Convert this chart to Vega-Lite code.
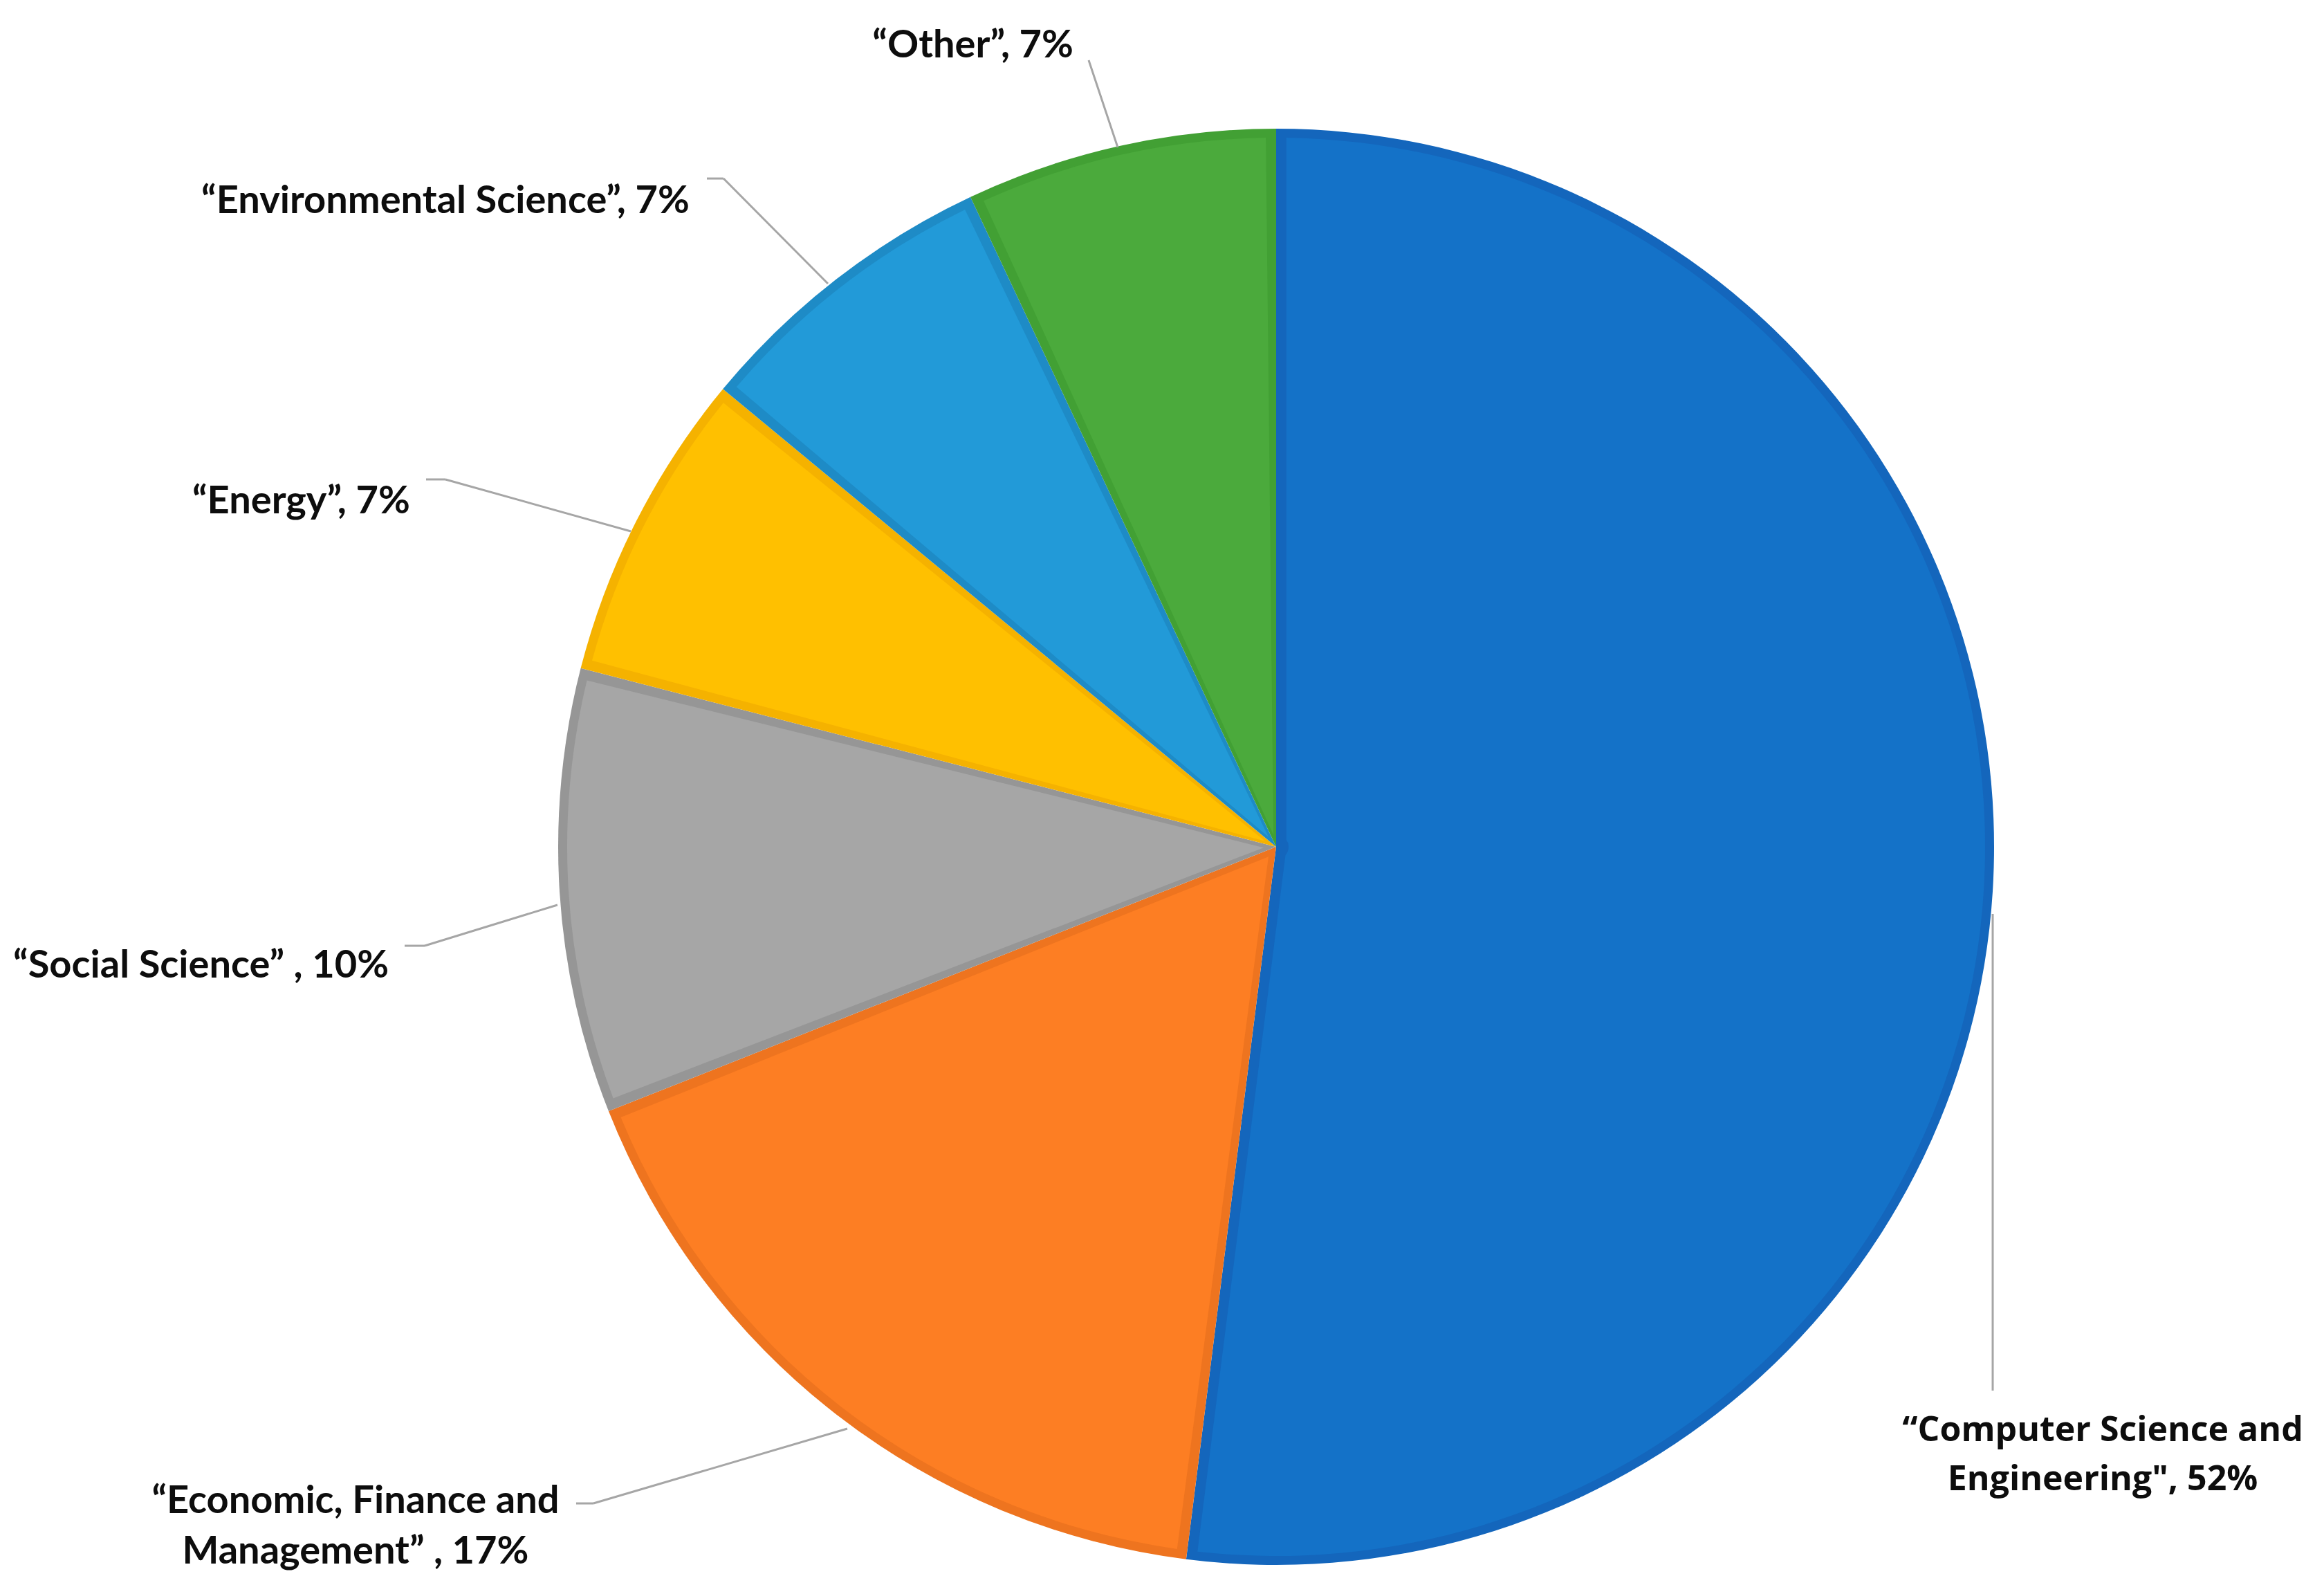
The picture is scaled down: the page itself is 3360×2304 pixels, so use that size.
{
  "$schema": "https://vega.github.io/schema/vega-lite/v6.json",
  "width": 2076,
  "height": 2076,
  "autosize": {"type": "none"},
  "padding": {"left": 807, "top": 186, "right": 477, "bottom": 42},
  "background": "white",
  "view": {"stroke": null},
  "data": {
    "values": [
      {"idx": 1, "category": "Computer Science and Engineering", "value": 52, "label": "“Computer Science and\nEngineering\", 52%"},
      {"idx": 2, "category": "Economic, Finance and Management", "value": 17, "label": "“Economic, Finance and\nManagement” , 17%"},
      {"idx": 3, "category": "Social Science", "value": 10, "label": "“Social Science” , 10%"},
      {"idx": 4, "category": "Energy", "value": 7, "label": "“Energy”, 7%"},
      {"idx": 5, "category": "Environmental Science", "value": 7, "label": "“Environmental Science”, 7%"},
      {"idx": 6, "category": "Other", "value": 7, "label": "“Other”, 7%"}
    ]
  },
  "resolve": {"scale": {"color": "independent"}},
  "layer": [
    {
      "mark": {"type": "arc", "outerRadius": 1038},
      "encoding": {
        "theta": {"field": "value", "type": "quantitative", "stack": true},
        "order": {"field": "idx", "type": "quantitative"},
        "color": {
          "field": "category", "type": "nominal", "legend": null,
          "scale": {
            "domain": ["Computer Science and Engineering", "Economic, Finance and Management", "Social Science", "Energy", "Environmental Science", "Other"],
            "range": ["#1466BC", "#EE741F", "#969696", "#F5B200", "#1E8BC6", "#42A034"]
          }
        }
      }
    },
    {
      "mark": {"type": "arc", "outerRadius": 1025, "innerRadius": 18, "padAngle": 0.029},
      "encoding": {
        "theta": {"field": "value", "type": "quantitative", "stack": true},
        "order": {"field": "idx", "type": "quantitative"},
        "color": {
          "field": "category", "type": "nominal", "legend": null,
          "scale": {
            "domain": ["Computer Science and Engineering", "Economic, Finance and Management", "Social Science", "Energy", "Environmental Science", "Other"],
            "range": ["#1472C8", "#FD7E23", "#A6A6A6", "#FFC000", "#229AD8", "#4BAA3C"]
          }
        }
      }
    },
    {
      "transform": [{"filter": "datum.idx == 6"}],
      "mark": {"type": "rule", "color": "#A6A6A6", "strokeWidth": 3},
      "encoding": {
        "x": {"datum": -0.2611, "type": "quantitative", "scale": {"domain": [-1, 1], "nice": false, "zero": false}, "axis": null},
        "y": {"datum": 1.0954, "type": "quantitative", "scale": {"domain": [-1, 1], "nice": false, "zero": false}, "axis": null},
        "x2": {"datum": -0.2206},
        "y2": {"datum": 0.974}
      }
    },
    {
      "transform": [{"filter": "datum.idx == 5"}],
      "mark": {"type": "rule", "color": "#A6A6A6", "strokeWidth": 3},
      "encoding": {
        "x": {"datum": -0.7929, "type": "quantitative"},
        "y": {"datum": 0.9306, "type": "quantitative"},
        "x2": {"datum": -0.7697},
        "y2": {"datum": 0.9306}
      }
    },
    {
      "transform": [{"filter": "datum.idx == 5"}],
      "mark": {"type": "rule", "color": "#A6A6A6", "strokeWidth": 3},
      "encoding": {
        "x": {"datum": -0.7697, "type": "quantitative"},
        "y": {"datum": 0.9306, "type": "quantitative"},
        "x2": {"datum": -0.6243},
        "y2": {"datum": 0.7842}
      }
    },
    {
      "transform": [{"filter": "datum.idx == 4"}],
      "mark": {"type": "rule", "color": "#A6A6A6", "strokeWidth": 3},
      "encoding": {
        "x": {"datum": -1.184, "type": "quantitative"},
        "y": {"datum": 0.5116, "type": "quantitative"},
        "x2": {"datum": -1.157},
        "y2": {"datum": 0.5116}
      }
    },
    {
      "transform": [{"filter": "datum.idx == 4"}],
      "mark": {"type": "rule", "color": "#A6A6A6", "strokeWidth": 3},
      "encoding": {
        "x": {"datum": -1.157, "type": "quantitative"},
        "y": {"datum": 0.5116, "type": "quantitative"},
        "x2": {"datum": -0.8988},
        "y2": {"datum": 0.4393}
      }
    },
    {
      "transform": [{"filter": "datum.idx == 3"}],
      "mark": {"type": "rule", "color": "#A6A6A6", "strokeWidth": 3},
      "encoding": {
        "x": {"datum": -1.2139, "type": "quantitative"},
        "y": {"datum": -0.1378, "type": "quantitative"},
        "x2": {"datum": -1.1859},
        "y2": {"datum": -0.1378}
      }
    },
    {
      "transform": [{"filter": "datum.idx == 3"}],
      "mark": {"type": "rule", "color": "#A6A6A6", "strokeWidth": 3},
      "encoding": {
        "x": {"datum": -1.1859, "type": "quantitative"},
        "y": {"datum": -0.1378, "type": "quantitative"},
        "x2": {"datum": -1.001},
        "y2": {"datum": -0.0809}
      }
    },
    {
      "transform": [{"filter": "datum.idx == 2"}],
      "mark": {"type": "rule", "color": "#A6A6A6", "strokeWidth": 3},
      "encoding": {
        "x": {"datum": -0.975, "type": "quantitative"},
        "y": {"datum": -0.9143, "type": "quantitative"},
        "x2": {"datum": -0.9509},
        "y2": {"datum": -0.9143}
      }
    },
    {
      "transform": [{"filter": "datum.idx == 2"}],
      "mark": {"type": "rule", "color": "#A6A6A6", "strokeWidth": 3},
      "encoding": {
        "x": {"datum": -0.9509, "type": "quantitative"},
        "y": {"datum": -0.9143, "type": "quantitative"},
        "x2": {"datum": -0.5973},
        "y2": {"datum": -0.8102}
      }
    },
    {
      "transform": [{"filter": "datum.idx == 1"}],
      "mark": {"type": "rule", "color": "#A6A6A6", "strokeWidth": 3},
      "encoding": {
        "x": {"datum": 0.9981, "type": "quantitative"},
        "y": {"datum": -0.0934, "type": "quantitative"},
        "x2": {"datum": 0.9981},
        "y2": {"datum": -0.7572}
      }
    },
    {
      "transform": [{"filter": "datum.idx == 6"}],
      "mark": {"type": "text", "align": "right", "baseline": "alphabetic", "font": "Lato", "fontWeight": "bold", "fontSize": 56, "color": "#0D0D0D"},
      "encoding": {
        "text": {"field": "label"},
        "x": {"datum": -0.2823, "type": "quantitative"},
        "y": {"datum": 1.0992, "type": "quantitative"}
      }
    },
    {
      "transform": [{"filter": "datum.idx == 5"}],
      "mark": {"type": "text", "align": "right", "baseline": "alphabetic", "font": "Lato", "fontWeight": "bold", "fontSize": 56, "color": "#0D0D0D"},
      "encoding": {
        "text": {"field": "label"},
        "x": {"datum": -0.817, "type": "quantitative"},
        "y": {"datum": 0.8825, "type": "quantitative"}
      }
    },
    {
      "transform": [{"filter": "datum.idx == 4"}],
      "mark": {"type": "text", "align": "right", "baseline": "alphabetic", "font": "Lato", "fontWeight": "bold", "fontSize": 56, "color": "#0D0D0D"},
      "encoding": {
        "text": {"field": "label"},
        "x": {"datum": -1.2062, "type": "quantitative"},
        "y": {"datum": 0.4644, "type": "quantitative"}
      }
    },
    {
      "transform": [{"filter": "datum.idx == 3"}],
      "mark": {"type": "text", "align": "right", "baseline": "alphabetic", "font": "Lato", "fontWeight": "bold", "fontSize": 56, "color": "#0D0D0D"},
      "encoding": {
        "text": {"field": "label"},
        "x": {"datum": -1.236, "type": "quantitative"},
        "y": {"datum": -0.1821, "type": "quantitative"}
      }
    },
    {
      "transform": [{"filter": "datum.idx == 2"}],
      "mark": {"type": "text", "align": "center", "baseline": "alphabetic", "font": "Lato", "fontWeight": "bold", "fontSize": 56, "lineHeight": 73, "lineBreak": "\n", "color": "#0D0D0D"},
      "encoding": {
        "text": {"field": "label"},
        "x": {"datum": -1.2823, "type": "quantitative"},
        "y": {"datum": -0.9277, "type": "quantitative"}
      }
    },
    {
      "transform": [{"filter": "datum.idx == 1"}],
      "mark": {"type": "text", "align": "center", "baseline": "alphabetic", "font": "Open Sans", "fontWeight": "bold", "fontSize": 50, "lineHeight": 71, "lineBreak": "\n", "color": "#0D0D0D"},
      "encoding": {
        "text": {"field": "label"},
        "x": {"datum": 1.1513, "type": "quantitative"},
        "y": {"datum": -0.8276, "type": "quantitative"}
      }
    }
  ]
}
